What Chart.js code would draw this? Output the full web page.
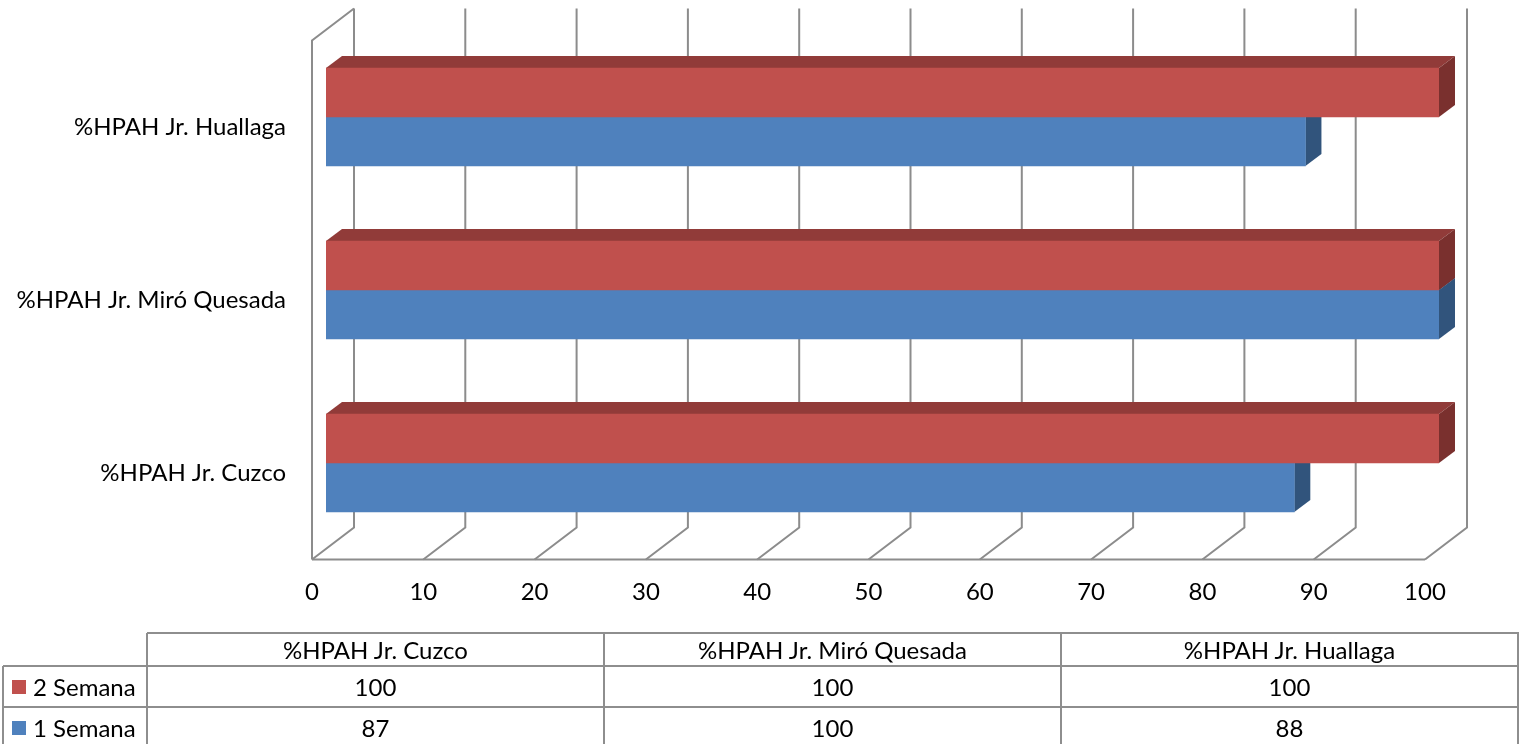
<!DOCTYPE html>
<html>
<head>
<meta charset="utf-8">
<script src="https://cdn.jsdelivr.net/npm/chart.js@4.4.1/dist/chart.umd.min.js"></script>
<style>
  html, body { margin: 0; padding: 0; background: #ffffff; }
  #wrap { position: relative; width: 1523px; height: 744px; overflow: hidden; font-family: Lato, "Open Sans", sans-serif; }
  #chart { position: absolute; left: 0; top: 0; }
  .hl, .vl { position: absolute; background: #8e8e8e; }
  .cell { position: absolute; font-size: 24px; color: #000; line-height: 28px; white-space: nowrap; }
  .key { position: absolute; width: 14px; height: 14px; }
</style>
</head>
<body>
<div id="wrap">
  <canvas id="chart" width="1523" height="744"></canvas>
</div>
<script>
// Stores, in the order of the data table (bottom bar group first)
const categories = ['%HPAH Jr. Cuzco', '%HPAH Jr. Miró Quesada', '%HPAH Jr. Huallaga'];
// Weekly percentages per store
const week2 = [100, 100, 100];
const week1 = [87, 100, 88];
const seriesNames = ['2 Semana', '1 Semana'];
const seriesValues = [week2, week1];
// Value axis
const xMin = 0, xMax = 100, xStep = 10;

// Face colours: front, top, side
const palette = [
  { front: '#C0504D', top: '#913B39', side: '#7A302E' },
  { front: '#4F81BD', top: '#3B6190', side: '#31547C' }
];

// Depth of the bars and of the plot box, relative to the bars' front plane
const BAR_DEPTH = { dx: 16, dy: -12 };
const FRONT = { dx: -14, dy: 10 };
const BACK = { dx: 28, dy: -22 };

// Chart.js lists categories top to bottom, so feed them reversed
const chartLabels = categories.slice().reverse();
const datasets = seriesNames.map((name, i) => ({
  label: name,
  data: seriesValues[i].slice().reverse(),
  backgroundColor: palette[i].front,
  borderWidth: 0,
  barThickness: 49
}));

// Draws the box walls, floor and the top/side faces of each bar
const depthPlugin = {
  id: 'depth3d',
  beforeDatasetsDraw(chart) {
    const { ctx, chartArea: a, scales: { x } } = chart;
    ctx.save();
    ctx.strokeStyle = '#8c8c8c';
    ctx.lineWidth = 2;
    ctx.lineJoin = 'miter';

    // back wall gridlines running down into the floor
    x.ticks.forEach(t => {
      const px = x.getPixelForValue(t.value);
      ctx.beginPath();
      ctx.moveTo(px + BACK.dx, a.top + BACK.dy);
      ctx.lineTo(px + BACK.dx, a.bottom + BACK.dy);
      ctx.lineTo(px + FRONT.dx, a.bottom + FRONT.dy);
      ctx.stroke();
    });
    const p0 = x.getPixelForValue(xMin);
    const p1 = x.getPixelForValue(xMax);
    // front edge of the floor
    ctx.beginPath();
    ctx.moveTo(p0 + FRONT.dx, a.bottom + FRONT.dy);
    ctx.lineTo(p1 + FRONT.dx, a.bottom + FRONT.dy);
    ctx.stroke();
    // side wall outline
    ctx.beginPath();
    ctx.moveTo(p0 + BACK.dx, a.top + BACK.dy);
    ctx.lineTo(p0 + FRONT.dx, a.top + FRONT.dy);
    ctx.lineTo(p0 + FRONT.dx, a.bottom + FRONT.dy);
    ctx.stroke();

    // bar depth faces, lower series first so upper ones overlap them
    for (let di = chart.data.datasets.length - 1; di >= 0; di--) {
      const meta = chart.getDatasetMeta(di);
      const col = palette[di];
      meta.data.forEach(bar => {
        const { x: end, y, base, height } = bar.getProps(['x', 'y', 'base', 'height'], true);
        const top = y - height / 2, bottom = y + height / 2;
        ctx.fillStyle = col.top;
        ctx.beginPath();
        ctx.moveTo(base, top);
        ctx.lineTo(base + BAR_DEPTH.dx, top + BAR_DEPTH.dy);
        ctx.lineTo(end + BAR_DEPTH.dx, top + BAR_DEPTH.dy);
        ctx.lineTo(end, top);
        ctx.closePath();
        ctx.fill();
        ctx.fillStyle = col.side;
        ctx.beginPath();
        ctx.moveTo(end, top);
        ctx.lineTo(end + BAR_DEPTH.dx, top + BAR_DEPTH.dy);
        ctx.lineTo(end + BAR_DEPTH.dx, bottom + BAR_DEPTH.dy);
        ctx.lineTo(end, bottom);
        ctx.closePath();
        ctx.fill();
      });
    }
    ctx.restore();
  }
};

new Chart(document.getElementById('chart'), {
  type: 'bar',
  data: { labels: chartLabels, datasets },
  options: {
    indexAxis: 'y',
    responsive: false,
    animation: false,
    devicePixelRatio: 1,
    layout: { padding: { left: 0, right: 84, top: 30.5, bottom: 124 } },
    plugins: { legend: { display: false }, tooltip: { enabled: false } },
    scales: {
      x: {
        min: xMin, max: xMax,
        grid: { display: false, drawTicks: false },
        border: { display: false },
        ticks: {
          stepSize: xStep,
          color: '#000',
          font: { family: 'Lato', size: 24 },
          padding: 28,
          labelOffset: FRONT.dx
        },
        afterFit(scale) {
          scale.height = 70.5;
          scale.paddingLeft = 0;
          scale.paddingRight = 0;
        }
      },
      y: {
        grid: { display: false, drawTicks: false },
        border: { display: false },
        ticks: {
          color: '#000',
          font: { family: 'Lato', size: 24 },
          padding: 40,
          labelOffset: FRONT.dy
        },
        afterFit(scale) {
          scale.width = 326;
          scale.paddingTop = 0;
          scale.paddingBottom = 0;
        }
      }
    }
  },
  plugins: [depthPlugin]
});

// Data table under the chart
(function buildTable() {
  const wrap = document.getElementById('wrap');
  const add = (cls, style, text) => {
    const d = document.createElement('div');
    d.className = cls;
    Object.assign(d.style, style);
    if (text !== undefined) d.textContent = text;
    wrap.appendChild(d);
    return d;
  };
  const colX = [147, 604, 1061, 1518];
  const rowY = [633, 666, 707, 748];
  const keyLeft = 3;
  // horizontal rules
  add('hl', { left: colX[0] + 'px', top: (rowY[0] - 1) + 'px', width: (colX[3] - colX[0] + 1) + 'px', height: '2px' });
  for (let r = 1; r < rowY.length; r++) {
    add('hl', { left: keyLeft + 'px', top: (rowY[r] - 1) + 'px', width: (colX[3] - keyLeft + 1) + 'px', height: '2px' });
  }
  // vertical rules
  add('vl', { left: (keyLeft - 1) + 'px', top: rowY[1] + 'px', width: '2px', height: (rowY[3] - rowY[1]) + 'px' });
  colX.forEach(cx => add('vl', { left: (cx - 1) + 'px', top: rowY[0] + 'px', width: '2px', height: (rowY[3] - rowY[0]) + 'px' }));
  // header
  categories.forEach((c, i) => {
    add('cell', { left: colX[i] + 'px', width: (colX[i + 1] - colX[i]) + 'px', top: (rowY[0] + (rowY[1] - rowY[0]) / 2 - 14) + 'px', textAlign: 'center' }, c);
  });
  // series rows
  seriesNames.forEach((name, s) => {
    const cy = rowY[s + 1] + (rowY[s + 2] - rowY[s + 1]) / 2;
    add('key', { left: '12px', top: (cy - 7) + 'px', background: palette[s].front });
    add('cell', { left: '33px', top: (cy - 14) + 'px' }, name);
    seriesValues[s].forEach((v, i) => {
      add('cell', { left: colX[i] + 'px', width: (colX[i + 1] - colX[i]) + 'px', top: (cy - 14) + 'px', textAlign: 'center' }, String(v));
    });
  });
})();
</script>
</body>
</html>
